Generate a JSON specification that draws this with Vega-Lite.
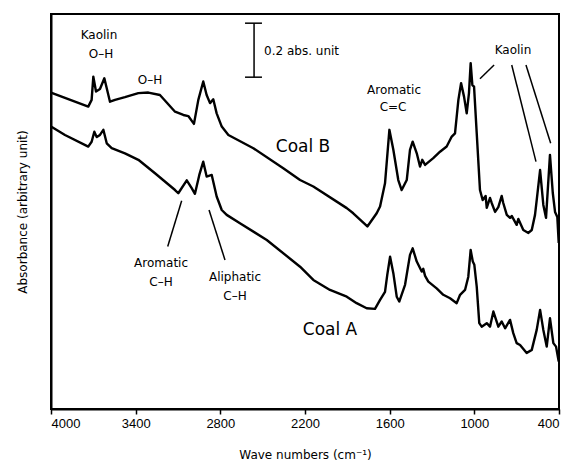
{
  "$schema": "https://vega.github.io/schema/vega-lite/v6.json",
  "autosize": {"type": "none"},
  "width": 508,
  "height": 395,
  "padding": {"left": 51, "top": 14, "right": 9, "bottom": 53},
  "background": "white",
  "config": {
    "view": {"stroke": "black", "strokeWidth": 2},
    "axis": {"grid": false, "domainColor": "black", "domainWidth": 2, "tickColor": "black", "labelColor": "black", "titleColor": "black", "labelFont": "Liberation Sans", "titleFont": "DejaVu Sans", "titleFontWeight": "normal"},
    "text": {"font": "DejaVu Sans", "color": "black"}
  },
  "datasets": {
    "spectra": [
      {"series": "Coal B", "wn": 4000, "abs": 1.168},
      {"series": "Coal B", "wn": 3901, "abs": 1.148},
      {"series": "Coal B", "wn": 3736, "abs": 1.116},
      {"series": "Coal B", "wn": 3712, "abs": 1.141},
      {"series": "Coal B", "wn": 3700, "abs": 1.227},
      {"series": "Coal B", "wn": 3681, "abs": 1.172},
      {"series": "Coal B", "wn": 3653, "abs": 1.181},
      {"series": "Coal B", "wn": 3622, "abs": 1.221},
      {"series": "Coal B", "wn": 3582, "abs": 1.134},
      {"series": "Coal B", "wn": 3546, "abs": 1.141},
      {"series": "Coal B", "wn": 3476, "abs": 1.151},
      {"series": "Coal B", "wn": 3381, "abs": 1.166},
      {"series": "Coal B", "wn": 3310, "abs": 1.168},
      {"series": "Coal B", "wn": 3228, "abs": 1.159},
      {"series": "Coal B", "wn": 3121, "abs": 1.097},
      {"series": "Coal B", "wn": 3062, "abs": 1.085},
      {"series": "Coal B", "wn": 3027, "abs": 1.081},
      {"series": "Coal B", "wn": 2987, "abs": 1.052},
      {"series": "Coal B", "wn": 2956, "abs": 1.141},
      {"series": "Coal B", "wn": 2921, "abs": 1.209},
      {"series": "Coal B", "wn": 2897, "abs": 1.159},
      {"series": "Coal B", "wn": 2873, "abs": 1.129},
      {"series": "Coal B", "wn": 2850, "abs": 1.143},
      {"series": "Coal B", "wn": 2826, "abs": 1.091},
      {"series": "Coal B", "wn": 2790, "abs": 1.042},
      {"series": "Coal B", "wn": 2743, "abs": 1.011},
      {"series": "Coal B", "wn": 2566, "abs": 0.962},
      {"series": "Coal B", "wn": 2354, "abs": 0.888},
      {"series": "Coal B", "wn": 2235, "abs": 0.844},
      {"series": "Coal B", "wn": 2141, "abs": 0.82},
      {"series": "Coal B", "wn": 1904, "abs": 0.74},
      {"series": "Coal B", "wn": 1858, "abs": 0.721},
      {"series": "Coal B", "wn": 1758, "abs": 0.672},
      {"series": "Coal B", "wn": 1692, "abs": 0.721},
      {"series": "Coal B", "wn": 1668, "abs": 0.746},
      {"series": "Coal B", "wn": 1633, "abs": 0.832},
      {"series": "Coal B", "wn": 1602, "abs": 1.03},
      {"series": "Coal B", "wn": 1574, "abs": 0.956},
      {"series": "Coal B", "wn": 1539, "abs": 0.844},
      {"series": "Coal B", "wn": 1515, "abs": 0.807},
      {"series": "Coal B", "wn": 1479, "abs": 0.844},
      {"series": "Coal B", "wn": 1456, "abs": 0.956},
      {"series": "Coal B", "wn": 1437, "abs": 0.986},
      {"series": "Coal B", "wn": 1408, "abs": 0.943},
      {"series": "Coal B", "wn": 1385, "abs": 0.894},
      {"series": "Coal B", "wn": 1369, "abs": 0.919},
      {"series": "Coal B", "wn": 1349, "abs": 0.9},
      {"series": "Coal B", "wn": 1291, "abs": 0.925},
      {"series": "Coal B", "wn": 1243, "abs": 0.949},
      {"series": "Coal B", "wn": 1196, "abs": 0.968},
      {"series": "Coal B", "wn": 1160, "abs": 1.005},
      {"series": "Coal B", "wn": 1137, "abs": 1.017},
      {"series": "Coal B", "wn": 1113, "abs": 1.141},
      {"series": "Coal B", "wn": 1094, "abs": 1.203},
      {"series": "Coal B", "wn": 1073, "abs": 1.153},
      {"series": "Coal B", "wn": 1054, "abs": 1.091},
      {"series": "Coal B", "wn": 1038, "abs": 1.166},
      {"series": "Coal B", "wn": 1026, "abs": 1.277},
      {"series": "Coal B", "wn": 1014, "abs": 1.196},
      {"series": "Coal B", "wn": 1002, "abs": 1.19},
      {"series": "Coal B", "wn": 983, "abs": 1.017},
      {"series": "Coal B", "wn": 960, "abs": 0.807},
      {"series": "Coal B", "wn": 941, "abs": 0.77},
      {"series": "Coal B", "wn": 920, "abs": 0.785},
      {"series": "Coal B", "wn": 912, "abs": 0.741},
      {"series": "Coal B", "wn": 889, "abs": 0.778},
      {"series": "Coal B", "wn": 877, "abs": 0.759},
      {"series": "Coal B", "wn": 853, "abs": 0.726},
      {"series": "Coal B", "wn": 830, "abs": 0.744},
      {"series": "Coal B", "wn": 806, "abs": 0.785},
      {"series": "Coal B", "wn": 795, "abs": 0.759},
      {"series": "Coal B", "wn": 770, "abs": 0.715},
      {"series": "Coal B", "wn": 747, "abs": 0.704},
      {"series": "Coal B", "wn": 735, "abs": 0.711},
      {"series": "Coal B", "wn": 700, "abs": 0.678},
      {"series": "Coal B", "wn": 688, "abs": 0.7},
      {"series": "Coal B", "wn": 653, "abs": 0.659},
      {"series": "Coal B", "wn": 617, "abs": 0.648},
      {"series": "Coal B", "wn": 593, "abs": 0.659},
      {"series": "Coal B", "wn": 570, "abs": 0.715},
      {"series": "Coal B", "wn": 558, "abs": 0.77},
      {"series": "Coal B", "wn": 534, "abs": 0.881},
      {"series": "Coal B", "wn": 511, "abs": 0.752},
      {"series": "Coal B", "wn": 492, "abs": 0.704},
      {"series": "Coal B", "wn": 464, "abs": 0.937},
      {"series": "Coal B", "wn": 444, "abs": 0.796},
      {"series": "Coal B", "wn": 428, "abs": 0.726},
      {"series": "Coal B", "wn": 412, "abs": 0.707},
      {"series": "Coal B", "wn": 402, "abs": 0.611},
      {"series": "Coal A", "wn": 4000, "abs": 1.042},
      {"series": "Coal A", "wn": 3901, "abs": 1.011},
      {"series": "Coal A", "wn": 3736, "abs": 0.968},
      {"series": "Coal A", "wn": 3712, "abs": 0.986},
      {"series": "Coal A", "wn": 3693, "abs": 1.023},
      {"series": "Coal A", "wn": 3676, "abs": 1.003},
      {"series": "Coal A", "wn": 3653, "abs": 1.011},
      {"series": "Coal A", "wn": 3629, "abs": 1.03},
      {"series": "Coal A", "wn": 3605, "abs": 0.98},
      {"series": "Coal A", "wn": 3570, "abs": 0.962},
      {"series": "Coal A", "wn": 3476, "abs": 0.943},
      {"series": "Coal A", "wn": 3381, "abs": 0.919},
      {"series": "Coal A", "wn": 3263, "abs": 0.869},
      {"series": "Coal A", "wn": 3121, "abs": 0.807},
      {"series": "Coal A", "wn": 3098, "abs": 0.795},
      {"series": "Coal A", "wn": 3038, "abs": 0.843},
      {"series": "Coal A", "wn": 3003, "abs": 0.814},
      {"series": "Coal A", "wn": 2980, "abs": 0.793},
      {"series": "Coal A", "wn": 2949, "abs": 0.863},
      {"series": "Coal A", "wn": 2921, "abs": 0.912},
      {"series": "Coal A", "wn": 2897, "abs": 0.857},
      {"series": "Coal A", "wn": 2861, "abs": 0.863},
      {"series": "Coal A", "wn": 2826, "abs": 0.783},
      {"series": "Coal A", "wn": 2790, "abs": 0.733},
      {"series": "Coal A", "wn": 2755, "abs": 0.715},
      {"series": "Coal A", "wn": 2661, "abs": 0.684},
      {"series": "Coal A", "wn": 2471, "abs": 0.622},
      {"series": "Coal A", "wn": 2235, "abs": 0.523},
      {"series": "Coal A", "wn": 2141, "abs": 0.474},
      {"series": "Coal A", "wn": 2023, "abs": 0.437},
      {"series": "Coal A", "wn": 1904, "abs": 0.412},
      {"series": "Coal A", "wn": 1834, "abs": 0.388},
      {"series": "Coal A", "wn": 1763, "abs": 0.369},
      {"series": "Coal A", "wn": 1704, "abs": 0.367},
      {"series": "Coal A", "wn": 1668, "abs": 0.4},
      {"series": "Coal A", "wn": 1633, "abs": 0.43},
      {"series": "Coal A", "wn": 1617, "abs": 0.493},
      {"series": "Coal A", "wn": 1597, "abs": 0.56},
      {"series": "Coal A", "wn": 1574, "abs": 0.499},
      {"series": "Coal A", "wn": 1550, "abs": 0.412},
      {"series": "Coal A", "wn": 1532, "abs": 0.394},
      {"series": "Coal A", "wn": 1491, "abs": 0.456},
      {"series": "Coal A", "wn": 1456, "abs": 0.567},
      {"series": "Coal A", "wn": 1437, "abs": 0.591},
      {"series": "Coal A", "wn": 1408, "abs": 0.542},
      {"series": "Coal A", "wn": 1373, "abs": 0.505},
      {"series": "Coal A", "wn": 1362, "abs": 0.515},
      {"series": "Coal A", "wn": 1349, "abs": 0.489},
      {"series": "Coal A", "wn": 1326, "abs": 0.468},
      {"series": "Coal A", "wn": 1267, "abs": 0.443},
      {"series": "Coal A", "wn": 1220, "abs": 0.419},
      {"series": "Coal A", "wn": 1172, "abs": 0.406},
      {"series": "Coal A", "wn": 1125, "abs": 0.388},
      {"series": "Coal A", "wn": 1101, "abs": 0.419},
      {"series": "Coal A", "wn": 1066, "abs": 0.437},
      {"series": "Coal A", "wn": 1043, "abs": 0.485},
      {"series": "Coal A", "wn": 1026, "abs": 0.585},
      {"series": "Coal A", "wn": 1011, "abs": 0.542},
      {"series": "Coal A", "wn": 1000, "abs": 0.53},
      {"series": "Coal A", "wn": 983, "abs": 0.449},
      {"series": "Coal A", "wn": 965, "abs": 0.314},
      {"series": "Coal A", "wn": 948, "abs": 0.301},
      {"series": "Coal A", "wn": 912, "abs": 0.314},
      {"series": "Coal A", "wn": 889, "abs": 0.301},
      {"series": "Coal A", "wn": 865, "abs": 0.357},
      {"series": "Coal A", "wn": 830, "abs": 0.301},
      {"series": "Coal A", "wn": 806, "abs": 0.32},
      {"series": "Coal A", "wn": 782, "abs": 0.295},
      {"series": "Coal A", "wn": 747, "abs": 0.326},
      {"series": "Coal A", "wn": 724, "abs": 0.277},
      {"series": "Coal A", "wn": 700, "abs": 0.24},
      {"series": "Coal A", "wn": 676, "abs": 0.233},
      {"series": "Coal A", "wn": 629, "abs": 0.203},
      {"series": "Coal A", "wn": 593, "abs": 0.215},
      {"series": "Coal A", "wn": 558, "abs": 0.289},
      {"series": "Coal A", "wn": 534, "abs": 0.363},
      {"series": "Coal A", "wn": 511, "abs": 0.289},
      {"series": "Coal A", "wn": 487, "abs": 0.227},
      {"series": "Coal A", "wn": 464, "abs": 0.332},
      {"series": "Coal A", "wn": 440, "abs": 0.24},
      {"series": "Coal A", "wn": 421, "abs": 0.227},
      {"series": "Coal A", "wn": 402, "abs": 0.172}
    ],
    "segments": [
      {"x1": 3074, "y1": 0.767, "x2": 3173, "y2": 0.598},
      {"x1": 2880, "y1": 0.733, "x2": 2767, "y2": 0.548},
      {"x1": 960, "y1": 1.219, "x2": 860, "y2": 1.27},
      {"x1": 735, "y1": 1.27, "x2": 563, "y2": 0.912},
      {"x1": 634, "y1": 1.27, "x2": 459, "y2": 0.98},
      {"x1": 2561, "y1": 1.425, "x2": 2561, "y2": 1.225},
      {"x1": 2625, "y1": 1.425, "x2": 2505, "y2": 1.425},
      {"x1": 2625, "y1": 1.225, "x2": 2505, "y2": 1.225}
    ],
    "labels": [
      {"wn": 3660, "abs": 1.381, "label": "Kaolin"},
      {"wn": 3646, "abs": 1.311, "label": "O–H"},
      {"wn": 3298, "abs": 1.215, "label": "O–H"},
      {"wn": 1569, "abs": 1.178, "label": "Aromatic"},
      {"wn": 1576, "abs": 1.115, "label": "C=C"},
      {"wn": 726, "abs": 1.326, "label": "Kaolin"},
      {"wn": 3220, "abs": 0.537, "label": "Aromatic"},
      {"wn": 3220, "abs": 0.467, "label": "C–H"},
      {"wn": 2696, "abs": 0.485, "label": "Aliphatic"},
      {"wn": 2696, "abs": 0.415, "label": "C–H"}
    ],
    "coals": [
      {"wn": 2214, "abs": 0.967, "label": "Coal B"},
      {"wn": 2023, "abs": 0.289, "label": "Coal A"}
    ],
    "scalelabel": [
      {"wn": 2490, "abs": 1.322, "label": "0.2  abs. unit"}
    ]
  },
  "layer": [
    {
      "data": {"name": "spectra"},
      "mark": {"type": "line", "color": "black", "strokeWidth": 2.4, "strokeJoin": "round"},
      "encoding": {
        "x": {
          "field": "wn", "type": "quantitative",
          "scale": {"domain": [400, 4000], "reverse": true, "nice": false, "zero": false},
          "axis": {"values": [4000, 3400, 2800, 2200, 1600, 1000, 400], "format": "d", "tickSize": 5, "tickWidth": 1.5, "labelFontSize": 13, "labelPadding": 3, "title": "Wave numbers (cm⁻¹)", "titleFontSize": 12, "titlePadding": 19}
        },
        "y": {
          "field": "abs", "type": "quantitative",
          "scale": {"domain": [-0.004, 1.459], "nice": false, "zero": false},
          "axis": {"ticks": false, "labels": false, "title": "Absorbance (arbitrary unit)", "titleFontSize": 12, "titlePadding": 22}
        },
        "detail": {"field": "series", "type": "nominal"}
      }
    },
    {
      "data": {"name": "segments"},
      "mark": {"type": "rule", "color": "black", "strokeWidth": 1.5},
      "encoding": {
        "x": {"field": "x1", "type": "quantitative"},
        "y": {"field": "y1", "type": "quantitative"},
        "x2": {"field": "x2"},
        "y2": {"field": "y2"}
      }
    },
    {
      "data": {"name": "labels"},
      "mark": {"type": "text", "fontSize": 12, "align": "center", "baseline": "middle"},
      "encoding": {
        "x": {"field": "wn", "type": "quantitative"},
        "y": {"field": "abs", "type": "quantitative"},
        "text": {"field": "label"}
      }
    },
    {
      "data": {"name": "coals"},
      "mark": {"type": "text", "fontSize": 17, "align": "center", "baseline": "middle"},
      "encoding": {
        "x": {"field": "wn", "type": "quantitative"},
        "y": {"field": "abs", "type": "quantitative"},
        "text": {"field": "label"}
      }
    },
    {
      "data": {"name": "scalelabel"},
      "mark": {"type": "text", "fontSize": 12, "align": "left", "baseline": "middle"},
      "encoding": {
        "x": {"field": "wn", "type": "quantitative"},
        "y": {"field": "abs", "type": "quantitative"},
        "text": {"field": "label"}
      }
    }
  ]
}
